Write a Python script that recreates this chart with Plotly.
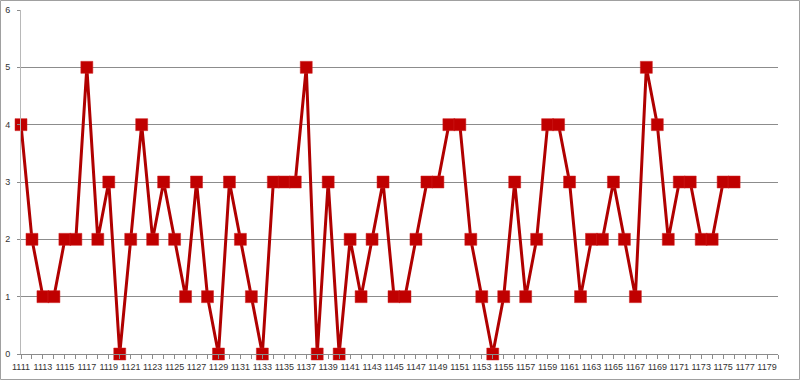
import plotly.graph_objects as go

years = list(range(1111, 1177))
values = [4, 2, 1, 1, 2, 2, 5, 2, 3, 0,
          2, 4, 2, 3, 2, 1, 3, 1, 0, 3,
          2, 1, 0, 3, 3, 3, 5, 0, 3, 0,
          2, 1, 2, 3, 1, 1, 2, 3, 3, 4,
          4, 2, 1, 0, 1, 3, 1, 2, 4, 4,
          3, 1, 2, 2, 3, 2, 1, 5, 4, 2,
          3, 3, 2, 2, 3, 3]
x_first, x_last = 1111, 1180
y_ticks = [0, 1, 2, 3, 4, 5, 6]

red = "#C00000"
grid = "#8c8c8c"

fig = go.Figure()
fig.add_trace(go.Scatter(
    x=years, y=values, mode="lines+markers",
    line=dict(color="#B00000", width=3),
    marker=dict(symbol="square", size=12, color=red, line=dict(color="#D02020", width=0.5)),
    showlegend=False, hoverinfo="x+y", cliponaxis=False,
))

L, R, T, B = 21, 22, 10, 26
W, H = 800, 380
pw, ph = W - L - R, H - T - B

fig.update_layout(
    width=W, height=H,
    margin=dict(l=L, r=R, t=T, b=B, pad=0, autoexpand=False),
    paper_bgcolor="white", plot_bgcolor="white",
    font=dict(family="Liberation Sans, Arial, sans-serif", size=9, color="#333333"),
    xaxis=dict(
        range=[x_first, x_last], tick0=x_first, dtick=2,
        showgrid=False, zeroline=False, automargin=False,
        showline=True, linecolor=grid, linewidth=1,
        ticks="outside", ticklen=4, tickcolor=grid, tickwidth=1,
        minor=dict(ticks="outside", dtick=1, tick0=x_first, ticklen=4, tickcolor=grid, showgrid=False),
        tickfont=dict(size=9, color="#333333"),
        tickformat="d",
    ),
    yaxis=dict(
        range=[0, 6], tickvals=y_ticks,
        showgrid=True, gridcolor=grid, gridwidth=1,
        zeroline=False, automargin=False,
        showline=True, linecolor="#b8b8b8", linewidth=1,
        ticks="outside", ticklen=3, tickcolor=grid,
        ticklabelstandoff=5,
        tickfont=dict(size=9, color="#333333"),
    ),
    shapes=[dict(
        type="rect", xref="paper", yref="paper",
        x0=(0.5 - L) / pw, x1=(W - 0.5 - L) / pw,
        y0=(H - B - (H - 0.5)) / ph, y1=(H - B - 0.5) / ph,
        line=dict(color="#a0a0a0", width=1), fillcolor="rgba(0,0,0,0)",
        layer="below",
    )],
)

fig.write_html(
    "out.html",
    config={"displayModeBar": False},
    post_script="document.body.style.margin='0';document.body.style.overflow='hidden';",
)
